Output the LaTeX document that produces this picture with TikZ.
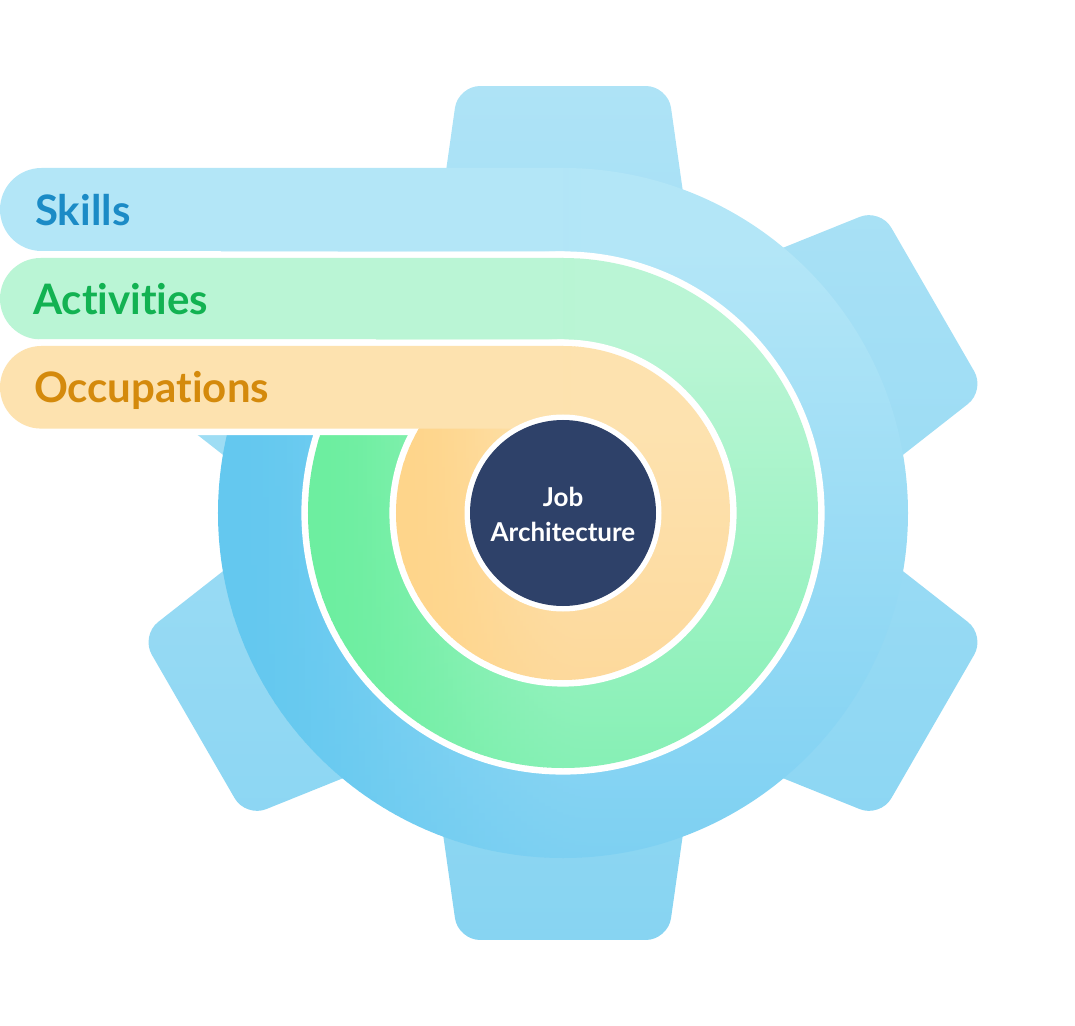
\documentclass[tikz,border=0pt]{standalone}
\usepackage{fontspec}
\setmainfont{Lato}[Ligatures=NoCommon]
\definecolor{teethTop}{HTML}{AEE3F6}
\definecolor{teethBot}{HTML}{87D4F2}
\definecolor{blueTop}{HTML}{B3E6F7}
\definecolor{blueBot}{HTML}{7DD0F2}
\definecolor{blueDark}{HTML}{64C8EF}
\definecolor{greenTop}{HTML}{BAF5D5}
\definecolor{greenBot}{HTML}{86F0B5}
\definecolor{greenDark}{HTML}{6DEEA0}
\definecolor{orangeTop}{HTML}{FDE2AF}
\definecolor{orangeBot}{HTML}{FDD99C}
\definecolor{orangeDark}{HTML}{FED58B}
\definecolor{navy}{HTML}{2E4169}
\definecolor{skillsText}{HTML}{1B8BC6}
\definecolor{actText}{HTML}{12B252}
\definecolor{occText}{HTML}{D48A0C}
% shaded disk: #1 top, #2 bottom, #3 dark, #4 radius, #5 y above which colour is flat,
% #6 x where fully dark, #7 x where clear (smooth ramp built from opaque strips)
\newcommand\ShadedDisk[7]{%
  \begin{scope}
    \clip (0,0) circle[radius=#4];
    \fill[#3] (-#4-1,-#4-1) rectangle (#6+0.6,#4+1);
    \foreach \j in {0,...,59}{%
      \pgfmathsetmacro\tc{(\j+0.5)/60}%
      \pgfmathsetmacro\pct{100*(1-\tc*\tc*(3-2*\tc))}%
      \pgfmathsetmacro\xa{(#6)+(\j/60)*((#7)-(#6))}%
      \pgfmathsetmacro\xb{(#6)+((\j+1)/60)*((#7)-(#6))+0.6}%
      \colorlet{stripT}{#3!\pct!#1}%
      \colorlet{stripB}{#3!\pct!#2}%
      \shade[top color=stripT, bottom color=stripB] (\xa,-#4-1) rectangle (\xb,#5);
      \fill[stripT] (\xa,#5-0.5) rectangle (\xb,#4+1);
    }
    \shade[top color=#1, bottom color=#2] (#7,-#4-1) rectangle (#4+1,#5);
    \fill[#1] (#7,#5-0.5) rectangle (#4+1,#4+1);
  \end{scope}}
\tikzset{
  gap/.style={draw=white, line width=13.2, line join=round},
  label/.style={anchor=base west, inner sep=0, font=\bfseries\fontsize{42}{50}\selectfont},
  coretext/.style={anchor=base, inner sep=0, text=white, font=\bfseries\fontsize{26}{30}\selectfont},
}
\begin{document}
\begin{tikzpicture}[x=1pt,y=1pt]
\useasboundingbox (-563,-512) rectangle (512,513);
% gear teeth
\shade[top color=teethTop, bottom color=teethBot, rounded corners=22]
  foreach \a in {90,30,-30,-90,-150,150}{
    (\a-22.29:324.2) -- (\a-13.81:439.7) -- (\a+13.81:439.7) -- (\a+22.29:324.2) -- cycle };
% gear body
\ShadedDisk{blueTop}{blueBot}{blueDark}{345}{262}{-330}{30}
\fill[blueTop] (0,345) -- (-521.5,345) arc[start angle=90,end angle=270,radius=41.5] -- (0,262) -- cycle;
% green layer
\path[gap] (0,0) circle[radius=255];
\path[gap] (0,255) -- (-522.3,255) arc[start angle=90,end angle=270,radius=40.7] -- (0,173.6) -- cycle;
\ShadedDisk{greenTop}{greenBot}{greenDark}{255}{174}{-245}{25}
\fill[greenTop] (0,255) -- (-522.3,255) arc[start angle=90,end angle=270,radius=40.7] -- (0,173.6) -- cycle;
% orange layer
\path[gap] (0,0) circle[radius=167];
\path[gap] (0,167) -- (-521.7,167) arc[start angle=90,end angle=270,radius=41.3] -- (0,84.4) -- cycle;
\ShadedDisk{orangeTop}{orangeBot}{orangeDark}{167}{85}{-160}{20}
\fill[orangeTop] (0,167) -- (-521.7,167) arc[start angle=90,end angle=270,radius=41.3] -- (0,84.4) -- cycle;
% core
\fill[white] (0,0) circle[radius=98.5];
\node[circle, fill=navy, minimum size=186, inner sep=0] (core) at (0,0) {};
\node[coretext] (job) at (0,7) {Job};
\node[coretext] (arch) at (0,-28.7) {Architecture};
% labels
\node[label, text=skillsText] (skills) at (-528,287) {Skills};
\node[label, text=actText] (act) at (-530,198) {Activities};
\node[label, text=occText] (occ) at (-529,110.3) {Occupations};
\end{tikzpicture}
\end{document}
